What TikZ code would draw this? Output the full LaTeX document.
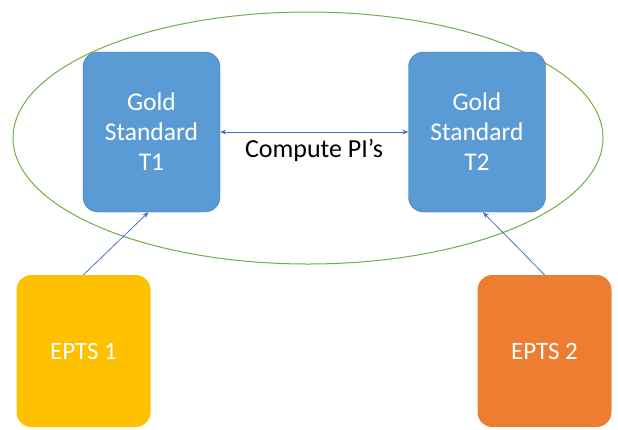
\documentclass[tikz,border=0pt]{standalone}
\usepackage{fontspec}
\setmainfont{Carlito}
\usetikzlibrary{arrows.meta}
\definecolor{GoldBlue}{RGB}{91,155,213}
\definecolor{GoldEdge}{RGB}{65,113,156}
\definecolor{LinkBlue}{RGB}{68,114,196}
\definecolor{RingGreen}{RGB}{112,173,71}
\definecolor{EptsYellow}{RGB}{255,192,0}
\definecolor{EptsOrange}{RGB}{237,125,49}

\begin{document}
\begin{tikzpicture}[x=1pt, y=-1pt,
    goldbox/.style={draw=GoldEdge, fill=GoldBlue, rounded corners=15pt, align=center,
        text=white, minimum width=137pt, minimum height=160pt, inner sep=0pt,
        font=\fontsize{25.5}{30}\selectfont},
    eptsbox/.style={rounded corners=15pt, text=white, minimum width=134pt,
        minimum height=152pt, inner sep=0pt, font=\fontsize{25}{30}\selectfont},
    link/.style={LinkBlue, line width=0.8pt, -{Stealth[length=6pt,width=5pt]}}]
            %% Frame
            \useasboundingbox (0,0) rectangle (618,429);
            %% Ring round the gold standards
            \draw[RingGreen, line width=1pt] (308,138) ellipse [x radius=295, y radius=126];
            %% Gold standards
            \node[goldbox] (t1) at (151.5,132) {Gold\\Standard\\T1};
            \node[goldbox] (t2) at (477,132) {Gold\\Standard\\T2};
            \draw[link, {Stealth[length=6pt,width=5pt]}-{Stealth[length=6pt,width=5pt]}] (t1.east) -- (t2.west);
            \node[font=\fontsize{26}{30}\selectfont] (pi) at (314,150) {Compute PI’s};
            %% EPTS
            \node[eptsbox, fill=EptsYellow] (e1) at (83.5,351) {EPTS 1};
            \node[eptsbox, fill=EptsOrange] (e2) at (544.5,351) {EPTS 2};
            \draw[link] (e1.north) -- ([xshift=-3pt]t1.south);
            \draw[link] (e2.north) -- ([xshift=6pt]t2.south);
\end{tikzpicture}
\end{document}
